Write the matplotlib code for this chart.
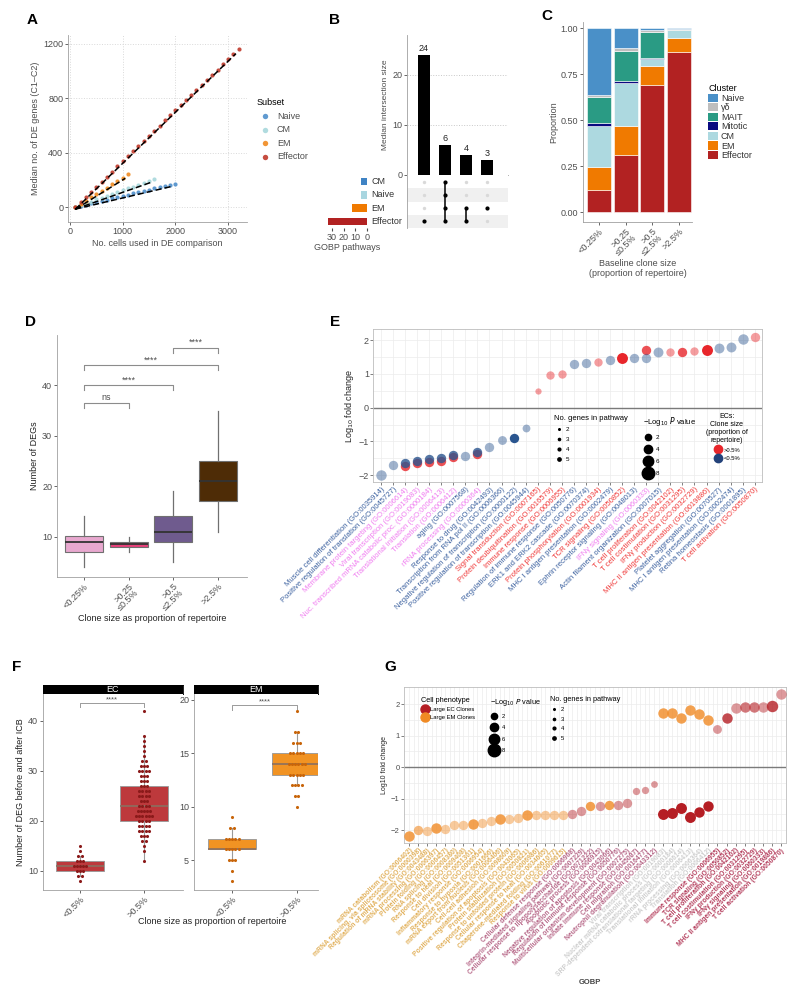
import matplotlib.pyplot as plt
import numpy as np
from matplotlib.lines import Line2D
from matplotlib.patches import Patch

plt.rcParams['font.family'] = ['Liberation Sans', 'DejaVu Sans']
plt.rcParams['axes.linewidth'] = 0.6

W, H = 800, 1001
GREY = '#4d4d4d'

# ---------------- A: DE genes vs cells ----------------
a_naive_x = [100, 200, 300, 400, 500, 600, 700, 800, 900, 1000, 1100, 1200, 1300, 1400, 1500, 1600, 1700, 1800, 1900, 2000]
a_naive_y = [2, 9, 17, 27, 35, 44, 55, 63, 72, 83, 91, 100, 110, 118, 128, 137, 146, 155, 165, 172]
a_cm_x = [100, 200, 300, 400, 500, 600, 700, 800, 900, 1000, 1100, 1200, 1300, 1400, 1500, 1600]
a_cm_y = [1, 13, 28, 40, 56, 67, 83, 95, 110, 122, 138, 149, 165, 177, 193, 205]
a_em_x = [100, 200, 300, 400, 500, 600, 700, 800, 900, 1000, 1100]
a_em_y = [0, 23, 45, 71, 94, 119, 141, 167, 189, 215, 240]
a_eff_x = [100, 200, 300, 400, 500, 600, 700, 800, 900, 1000, 1100, 1200, 1300, 1400, 1500, 1600,
           1700, 1800, 1900, 2000, 2100, 2200, 2300, 2400, 2500, 2600, 2700, 2800, 2900, 3000, 3100, 3200]
a_eff_y = [0, 36, 74, 111, 149, 186, 224, 261, 299, 337, 374, 412, 450, 487, 525, 562,
           600, 637, 675, 712, 750, 787, 825, 862, 900, 937, 975, 1012, 1050, 1087, 1125, 1165]
a_subsets = ['Naive', 'CM', 'EM', 'Effector']
a_colors = ['#4f8fcb', '#a8d8dc', '#f08a20', '#c0392b']

# ---------------- B: upset ----------------
b_inter = [24, 6, 4, 3]
b_sets = ['CM', 'Naive', 'EM', 'Effector']
b_members = [[0, 0, 0, 1], [1, 1, 1, 1], [0, 0, 1, 1], [0, 0, 1, 0]]
b_set_sizes = [5, 5, 13, 33]
b_set_colors = ['#3f83c4', '#a9d6e0', '#f07a00', '#b22222']

# ---------------- C: stacked proportions ----------------
c_groups = ['<0.25%', '>0.25\n≤0.5%', '>0.5\n≤2.5%', '>2.5%']
c_clusters = ['Naive', 'γδ', 'MAIT', 'Mitotic', 'CM', 'EM', 'Effector']
c_colors = ['#4a90c8', '#bebebe', '#2a9b84', '#0a0a80', '#add9e0', '#f07a00', '#b22222']
c_naive = [0.363, 0.11, 0.01, 0.007]
c_gd = [0.01, 0.015, 0.01, 0.003]
c_mait = [0.145, 0.16, 0.14, 0.0]
c_mitotic = [0.012, 0.015, 0.01, 0.0]
c_cm = [0.225, 0.23, 0.035, 0.045]
c_em = [0.125, 0.16, 0.105, 0.075]
c_effector = [0.12, 0.31, 0.69, 0.87]

# ---------------- D: boxplots ----------------
d_groups = ['<0.25%', '>0.25\n≤0.5%', '>0.5\n≤2.5%', '>2.5%']
d_q1 = [7, 8, 9, 17]
d_med = [9, 8.5, 11, 21]
d_q3 = [10.2, 9, 14, 25]
d_lo = [4, 7, 5, 11]
d_hi = [14, 10, 19, 35]
d_colors = ['#e8a8cf', '#e8407a', '#6f5b8e', '#4e2c06']
d_pairs = [(1, 2, 'ns', 36.5), (1, 3, '****', 40), (1, 4, '****', 44), (3, 4, '****', 47.5)]

# ---------------- E: GO bubble ----------------
e_terms = ['Muscle cell differentiation (GO:0035914)', 'Positive regulation of translation (GO:0045727)',
           'Membrane protein targeting (GO:0006614)', 'Viral transcription (GO:0019083)',
           'Nuc. transcribed mRNA catabolic proc. (GO:0000184)', 'Translational initiation (GO:0006413)',
           'Translation (GO:0006412)', 'aging (GO:0007568)', 'rRNA processing (GO:0006364)',
           'Response to drug (GO:0042493)', 'Transcription from RNA pol II (GO:0006366)',
           'Negative regulation of transcription (GO:0000122)', 'Positive regulation of transcription (GO:0045944)',
           'Signal transduction (GO:0007165)', 'Protein deubiquitination (GO:0016579)',
           'Immune response (GO:0006955)', 'Regulation of immune response (GO:0050776)',
           'ERK1 and ERK2 cascade (GO:0070374)', 'Protein phosphorylation (GO:0001934)',
           'MHC I antigen presentation (GO:0002479)', 'TCR signaling (GO:0050852)',
           'Ephrin receptor signaling (GO:0048013)', 'IFNγ signaling (GO:0060333)',
           'Actin filament organization (GO:0007015)', 'T cell proliferation (GO:0042102)',
           'T cell costimulation (GO:0031295)', 'IFNγ production (GO:0032729)',
           'MHC II antigen presentation (GO:0019886)', 'Platelet aggregation (GO:0070527)',
           'MHC I antigen presentation (GO:0002474)', 'Retina homeostasis (GO:0001895)',
           'T cell activation (GO:0050870)']
e_group = [0, 0, 1, 1, 1, 1, 1, 0, 1, 0, 0, 0, 0, 2, 2, 2, 0, 0, 2, 0, 2, 0, 1, 0, 2, 2, 2, 2, 0, 0, 0, 2]
e_red_fc = [None, None, -1.72, -1.65, -1.62, -1.58, -1.47, None, -1.37, None, None, None, None, 0.49, 0.97, 0.99,
            None, None, 1.34, None, 1.47, None, 1.70, None, 1.65, 1.66, 1.69, 1.71, None, None, None, 2.10]
e_red_p = [None, None, 5, 5, 5, 5, 5, None, 5, None, None, None, None, 2, 4, 4,
           None, None, 4, None, 6.5, None, 5, None, 4, 5, 4, 6.5, None, None, None, 5]
e_red_n = [None, None, 4, 4, 4, 4, 4, None, 4, None, None, None, None, 2, 2, 2,
           None, None, 2, None, 5, None, 4, None, 2, 4, 2, 5, None, None, None, 2]
e_blue_fc = [-1.99, -1.69, -1.63, -1.57, -1.53, -1.50, -1.40, -1.42, -1.30, -1.15, -0.95, -0.90, -0.60, None, None, None,
             1.28, 1.32, None, 1.40, None, 1.48, 1.47, 1.65, None, None, None, None, 1.77, 1.80, 2.03, None]
e_blue_p = [6, 5, 5, 5, 5, 5, 5, 5, 5, 5, 4.5, 5, 3.5, None, None, None,
            5, 5, None, 5, None, 5, 5, 5.5, None, None, None, None, 5.5, 5.5, 6, None]
e_blue_n = [2, 2, 4, 4, 4, 4, 4, 2, 4, 2, 2, 5, 2, None, None, None,
            2, 2, None, 2, None, 2, 2, 2, None, None, None, None, 2, 2, 2, None]
e_label_cols = ['#3d62a0', '#f07df0', '#f03a3a']

# ---------------- F: facetted boxplots ----------------
f_groups = ['<0.5%', '>0.5%']
f_ec_q1 = [10, 20]
f_ec_med = [11, 23]
f_ec_q3 = [12, 27]
f_ec_lo = [9, 12]
f_ec_hi = [13, 37]
f_ec_small_vals = [8, 9, 10, 11, 12, 13, 14, 15]
f_ec_small_counts = [1, 2, 3, 5, 3, 2, 1, 1]
f_ec_large_vals = [12, 14, 15, 16, 17, 18, 19, 20, 21, 22, 23, 24, 25, 26, 27, 28, 29, 30, 31, 32, 33, 34, 35, 36, 37, 42]
f_ec_large_counts = [1, 1, 1, 2, 3, 4, 4, 4, 6, 5, 4, 3, 4, 4, 3, 3, 3, 4, 3, 2, 1, 1, 1, 1, 1, 1]
f_em_q1 = [6, 13]
f_em_med = [6, 14]
f_em_q3 = [7, 15]
f_em_lo = [5, 12]
f_em_hi = [8, 17]
f_em_small_vals = [3, 4, 5, 6, 7, 8, 9]
f_em_small_counts = [1, 1, 3, 5, 5, 2, 1]
f_em_large_vals = [10, 11, 12, 13, 14, 15, 16, 17, 19]
f_em_large_counts = [1, 2, 4, 5, 6, 5, 3, 2, 1]

# ---------------- G: GO bubble EC vs EM ----------------
g_terms = ['mRNA catabolism (GO:0006402)', 'mRNA splicing, via spliceosome (GO:0000398)',
           'Regulation of mRNA stability (GO:0043488)', 'mRNA processing (GO:0006397)',
           'Protein folding (GO:0006457)', 'RNA splicing (GO:0008380)', 'Response to heat (GO:0009408)',
           'Cell division (GO:0051301)', 'Inflammatory response (GO:0006954)',
           'Response to hypoxia (GO:0001666)', 'mRNA export from nucleus (GO:0006406)',
           'Cell-cell adhesion (GO:0098609)', 'Positive regulation of apoptosis (GO:0043065)',
           'Protein stabilization (GO:0050821)', 'Response to unfolded protein (GO:0006986)',
           'Cellular response to heat (GO:0034605)', 'Chaperone-mediated folding (GO:0061077)',
           'Response to virus (GO:0009615)', 'Cellular defense response (GO:0006968)',
           'Integrin-mediated signaling pathway (GO:0007229)',
           'Cellular response to lipopolysaccharide (GO:0071222)', 'Apoptotic process (GO:0006915)',
           'Negative regulation of apoptosis (GO:0043066)', 'Regulation of immune response (GO:0050776)',
           'Multicellular organism development (GO:0007275)', 'Innate immune response (GO:0045087)',
           'Cell migration (GO:0016477)', 'Neutrophil degranulation (GO:0043312)',
           'Viral transcription (GO:0019083)', 'Nuclear mRNA catabolic process (GO:0000184)',
           'SRP-dependent cotranslational targeting (GO:0006614)', 'Translational initiation (GO:0006413)',
           'rRNA processing (GO:0006364)', 'Translation (GO:0006412)', 'Immune response (GO:0006955)',
           'TCR signaling (GO:0050852)', 'T cell proliferation (GO:0042102)',
           'T cell costimulation (GO:0031295)', 'IFNγ production (GO:0032729)',
           'IFNγ signaling (GO:0060333)', 'MHC II antigen presentation (GO:0019886)',
           'T cell activation (GO:0050870)']
g_group = [0, 0, 0, 0, 0, 0, 0, 0, 0, 0, 0, 0, 0, 0, 0, 0, 0, 0,
           1, 1, 1, 1, 1, 1, 1, 1, 1, 1, 2, 2, 2, 2, 2, 2, 3, 3, 3, 3, 3, 3, 3, 3]
g_ec_fc = [None, None, None, None, None, None, None, None, None, None, None, None, None, None, None, None, None, None,
           -1.50, -1.39, None, -1.24, None, -1.20, -1.15, -0.75, -0.73, -0.54,
           -1.50, -1.47, -1.31, -1.58, -1.44, -1.23, 1.22, 1.57, 1.87, 1.90, 1.92, 1.92, 1.95, 2.33]
g_ec_p = [None, None, None, None, None, None, None, None, None, None, None, None, None, None, None, None, None, None,
          5, 5, None, 5, None, 5, 5, 3, 3, 2.5, 6.5, 6.5, 6.5, 6.5, 6, 6, 4.5, 6, 6, 6, 6, 6, 7, 6]
g_ec_n = [None, None, None, None, None, None, None, None, None, None, None, None, None, None, None, None, None, None,
          2, 2, None, 2, None, 2, 2, 2, 2, 2, 5, 5, 5, 5, 5, 5, 2, 4, 2, 3, 3, 2, 4, 2]
g_em_fc = [-2.19, -2.00, -2.03, -1.93, -1.95, -1.84, -1.84, -1.81, -1.77, -1.70, -1.65, -1.65, -1.63, -1.52, -1.52,
           -1.52, -1.52, -1.52, None, None, -1.24, None, -1.22, None, None, None, None, None,
           1.73, 1.71, 1.55, 1.82, 1.69, 1.48, None, None, None, None, None, None, None, None]
g_em_p = [6, 5, 5, 6, 5, 5, 5, 6, 5, 5, 6, 5, 5, 6, 5, 5, 5, 5, None, None, 5, None, 5, None, None, None, None, None,
          6, 6, 6, 6, 6, 6, None, None, None, None, None, None, None, None]
g_em_n = [4, 3, 2, 4, 2, 2, 2, 4, 2, 2, 4, 2, 2, 4, 2, 2, 2, 2, None, None, 4, None, 4, None, None, None, None, None,
          4, 4, 4, 4, 4, 4, None, None, None, None, None, None, None, None]
g_label_cols = ['#e2b25e', '#b86a8a', '#cfcfcf', '#b5405e']

ALPHA = {2: 0.45, 3: 0.6, 4: 0.8, 5: 1.0}


def rect(l, t, r, b):
    return [l / W, 1 - b / H, (r - l) / W, (b - t) / H]


def fx(x):
    return x / W


def fy(y):
    return 1 - y / H


def dot_d(p):
    return 3 + 0.75 * p


def clean(ax):
    for s in ['top', 'right']:
        ax.spines[s].set_visible(False)
    for s in ['left', 'bottom']:
        ax.spines[s].set_color('#a0a0a0')
    ax.tick_params(colors=GREY, labelsize=6.5, length=2, width=0.6, pad=1.5)


def panel_a(fig):
    ax = fig.add_axes(rect(68, 35, 247, 222))
    data = [(a_naive_x, a_naive_y), (a_cm_x, a_cm_y), (a_em_x, a_em_y), (a_eff_x, a_eff_y)]
    for (xs, ys), name, col in zip(data, a_subsets, a_colors):
        ax.scatter(xs, ys, s=9, color=col, alpha=0.9, lw=0, zorder=3, label=name)
    for xs, ys in data:
        k, c = np.polyfit(xs, ys, 1)
        xx = np.array([xs[0], xs[-1] - 50])
        ax.plot(xx, k * xx + c - 15, color='black', ls=(0, (4, 2)), lw=1.1, zorder=4)
    ax.set_xlim(-38, 3360)
    ax.set_ylim(-110, 1266)
    ax.set_xticks([0, 1000, 2000, 3000])
    ax.set_yticks([0, 400, 800, 1200])
    ax.grid(True, ls=':', color='#d9d9d9', lw=0.7)
    ax.set_axisbelow(True)
    clean(ax)
    ax.set_xlabel('No. cells used in DE comparison', fontsize=6.5, color=GREY, labelpad=2)
    ax.set_ylabel('Median no. of DE genes (C1–C2)', fontsize=6.5, color=GREY, labelpad=2)
    ax.legend(title='Subset', loc='upper left', bbox_to_anchor=(fx(248), fy(90)),
              bbox_transform=fig.transFigure, frameon=False, fontsize=6.5, title_fontsize=6.5,
              handletextpad=0.3, labelspacing=0.5, markerscale=1.3, alignment='left',
              labelcolor=GREY)


def panel_b(fig):
    ax = fig.add_axes(rect(407, 35, 508, 175))
    pos = np.arange(len(b_inter))
    ax.bar(pos, b_inter, width=0.56, color='black', zorder=3)
    for p, v in zip(pos, b_inter):
        ax.text(p, v + 0.4, str(v), ha='center', va='bottom', fontsize=6.5, color='#222222')
    ax.set_xlim(-0.81, 4.0)
    ax.set_ylim(0, 28)
    ax.set_yticks([0, 10, 20])
    ax.set_xticks([])
    ax.yaxis.grid(True, ls=':', color='#c8c8c8', lw=0.7)
    ax.set_axisbelow(True)
    clean(ax)
    ax.set_ylabel('Median intersection size', fontsize=6, color=GREY, labelpad=2)

    axm = fig.add_axes(rect(407, 175, 508, 228))
    axm.set_xlim(-0.81, 4.0)
    axm.set_ylim(3.5, -0.5)
    for r in [1, 3]:
        axm.axhspan(r - 0.5, r + 0.5, color='#f0f0f0', lw=0)
    for c in range(len(b_inter)):
        on = [r for r in range(len(b_sets)) if b_members[c][r]]
        axm.scatter([c] * len(b_sets), range(len(b_sets)), s=6, color='#d9d9d9', lw=0, zorder=2)
        if len(on) > 1:
            axm.plot([c, c], [min(on), max(on)], color='black', lw=1.1, zorder=3)
        axm.scatter([c] * len(on), on, s=9, color='black', lw=0, zorder=4)
    axm.set_xticks([])
    axm.set_yticks([])
    for s in ['top', 'right', 'bottom']:
        axm.spines[s].set_visible(False)
    axm.spines['left'].set_color('#a0a0a0')

    axs = fig.add_axes(rect(328, 175, 367, 228))
    axs.barh(range(len(b_sets)), b_set_sizes, height=0.55, color=b_set_colors)
    axs.set_xlim(33.4, 0)
    axs.set_ylim(3.5, -0.5)
    axs.set_yticks([])
    axs.set_xticks([30, 20, 10, 0])
    for s in ['top', 'right', 'left', 'bottom']:
        axs.spines[s].set_visible(False)
    axs.tick_params(colors=GREY, labelsize=6.5, length=2, pad=1.5)
    axs.set_xlabel('GOBP pathways', fontsize=6.5, color=GREY, labelpad=1)
    for k, name in enumerate(b_sets):
        fig.text(fx(371), fy(175 + (k + 0.5) * 53 / 4), name, va='center', fontsize=6.5, color='#333333')


def panel_c(fig):
    ax = fig.add_axes(rect(583, 22, 692, 222))
    x = np.arange(len(c_groups))
    stack = [c_effector, c_em, c_cm, c_mitotic, c_mait, c_gd, c_naive]
    cols = c_colors[::-1]
    bottom = np.zeros(len(c_groups))
    for vals, col in zip(stack, cols):
        ax.bar(x, vals, bottom=bottom, width=0.89, color=col, edgecolor='white', lw=0.4)
        bottom += np.array(vals)
    ax.set_xlim(-0.59, 3.48)
    ax.set_ylim(-0.054, 1.033)
    ax.set_yticks([0, 0.25, 0.5, 0.75, 1.0])
    ax.set_yticklabels(['0.00', '0.25', '0.50', '0.75', '1.00'])
    ax.set_xticks(x)
    ax.set_xticklabels(c_groups, rotation=45, ha='right', rotation_mode='anchor', fontsize=6, linespacing=0.9)
    clean(ax)
    ax.set_ylabel('Proportion', fontsize=6.5, color=GREY, labelpad=2)
    ax.set_xlabel('Baseline clone size\n(proportion of repertoire)', fontsize=6.5, color=GREY, labelpad=1)
    handles = [Patch(facecolor=c, edgecolor='none') for c in c_colors]
    ax.legend(handles, c_clusters, title='Cluster', loc='upper left', bbox_to_anchor=(fx(700), fy(76)),
              bbox_transform=fig.transFigure, frameon=False, fontsize=6.5, title_fontsize=6.5,
              handlelength=1.1, handleheight=1.0, handletextpad=0.3, labelspacing=0.05,
              alignment='left', labelcolor='#333333')


def panel_d(fig):
    ax = fig.add_axes(rect(57, 335, 247, 577))
    stats = [dict(q1=a, med=m, q3=b, whislo=lo, whishi=hi, fliers=[])
             for a, m, b, lo, hi in zip(d_q1, d_med, d_q3, d_lo, d_hi)]
    bp = ax.bxp(stats, positions=[1, 2, 3, 4], widths=0.85, patch_artist=True, showcaps=False,
                boxprops=dict(edgecolor='#707070', lw=0.8),
                medianprops=dict(color='#333333', lw=1.3),
                whiskerprops=dict(color='#707070', lw=0.9))
    for patch, c in zip(bp['boxes'], d_colors):
        patch.set_facecolor(c)
    for i, j, lab, y in d_pairs:
        ax.plot([i, i, j, j], [y - 1, y, y, y - 1], color='#8c8c8c', lw=0.8)
        ax.text((i + j) / 2, y + 0.2, lab, ha='center', va='bottom', fontsize=6.5, color=GREY)
    ax.set_xlim(0.4, 4.65)
    ax.set_ylim(2, 50)
    ax.set_yticks([10, 20, 30, 40])
    ax.set_xticks([1, 2, 3, 4])
    ax.set_xticklabels(d_groups, rotation=45, ha='right', rotation_mode='anchor', fontsize=6, linespacing=0.9)
    clean(ax)
    ax.set_ylabel('Number of DEGs', fontsize=6.5, color='#222222', labelpad=2)
    ax.set_xlabel('Clone size as proportion of repertoire', fontsize=6.5, color='#222222', labelpad=1)


def bubble_axes(ax):
    for s in ax.spines.values():
        s.set_color('#bdbdbd')
    ax.grid(True, which='both', color='#ececec', lw=0.5)
    ax.set_axisbelow(True)
    ax.axhline(0, color='#7a7a7a', lw=1.0, zorder=1)
    ax.tick_params(length=2, width=0.5, pad=1, color=GREY)
    ax.tick_params(axis='y', labelcolor=GREY)


def panel_e(fig):
    ax = fig.add_axes(rect(373, 329, 762, 482))
    x = np.arange(1, len(e_terms) + 1)
    for fc, pv, nn, col in [(e_red_fc, e_red_p, e_red_n, '#e8262b'),
                            (e_blue_fc, e_blue_p, e_blue_n, '#2a558f')]:
        for xi, f, p, n in zip(x, fc, pv, nn):
            if f is None:
                continue
            ax.scatter(xi, f, s=dot_d(p) ** 2, color=col, alpha=ALPHA[n], lw=0, zorder=3)
    ax.set_xlim(0.34, 32.6)
    ax.set_ylim(-2.2, 2.33)
    ax.set_yticks([-2, -1, 0, 1, 2])
    ax.set_yticks([-1.5, -0.5, 0.5, 1.5], minor=True)
    bubble_axes(ax)
    ax.tick_params(axis='y', which='minor', length=0)
    ax.tick_params(axis='y', labelsize=6.5)
    ax.set_xticks(x)
    ax.set_xticklabels(e_terms, rotation=45, ha='right', rotation_mode='anchor', fontsize=5.5)
    for lab, g in zip(ax.get_xticklabels(), e_group):
        lab.set_color(e_label_cols[g])
    ax.set_ylabel('Log$_{10}$ fold change', fontsize=6.5, color='#222222', labelpad=2)

    h1 = [Line2D([], [], ls='', marker='o', color='black', markersize=m) for m in [1.2, 1.6, 2.0, 2.4]]
    l1 = ax.legend(h1, ['2', '3', '4', '5'], title='No. genes in pathway', loc='upper left',
                   bbox_to_anchor=(fx(551), fy(412)), bbox_transform=fig.transFigure, frameon=False,
                   fontsize=4.5, title_fontsize=5.5, labelspacing=0.75, handletextpad=0.4,
                   handlelength=1.5, borderpad=0, alignment='left')
    ax.add_artist(l1)
    h2 = [Line2D([], [], ls='', marker='o', color='black', markersize=dot_d(p)) for p in [2, 4, 6, 8]]
    l2 = ax.legend(h2, ['2', '4', '6', '8'], title='−Log$_{10}$ $P$ value', loc='upper left',
                   bbox_to_anchor=(fx(640), fy(412)), bbox_transform=fig.transFigure, frameon=False,
                   fontsize=4.5, title_fontsize=5.5, labelspacing=1.05, handletextpad=0.5,
                   handlelength=1.5, borderpad=0, alignment='left')
    ax.add_artist(l2)
    h3 = [Line2D([], [], ls='', marker='o', color=c, markersize=6) for c in ['#e8262b', '#23427a']]
    l3 = ax.legend(h3, ['>0.5%', '<0.5%'], title='ECs:\nClone size\n(proportion of\nrepertoire)',
                   loc='upper left', bbox_to_anchor=(fx(703), fy(410)), bbox_transform=fig.transFigure,
                   frameon=False, fontsize=4.2, title_fontsize=5, labelspacing=0.6, handletextpad=0.3,
                   handlelength=1.5, borderpad=0, alignment='center')
    l3.get_title().set_multialignment('center')


def dot_strip(ax, pos, vals, counts, color):
    for v, n in zip(vals, counts):
        offs = (np.arange(n) - (n - 1) / 2) * 0.05
        ax.scatter(pos + offs, np.full(n, v), s=5, color=color, lw=0, zorder=4)


def facet(fig, l, r, title, q1, med, q3, lo, hi, small, large, ylim, yticks, xlim, fill, dotcol, sig_y, tick):
    st = fig.add_axes(rect(l, 685, r, 694))
    st.set_facecolor('black')
    st.set_xticks([])
    st.set_yticks([])
    st.text(0.5, 0.5, title, color='white', ha='center', va='center', fontsize=6.5, transform=st.transAxes)
    ax = fig.add_axes(rect(l, 694, r, 890))
    stats = [dict(q1=a, med=m, q3=b, whislo=w0, whishi=w1, fliers=[])
             for a, m, b, w0, w1 in zip(q1, med, q3, lo, hi)]
    bp = ax.bxp(stats, positions=[1, 2], widths=0.75, patch_artist=True, showcaps=False,
                boxprops=dict(edgecolor='#9a9a9a', lw=0.7),
                medianprops=dict(color='#8a7060', lw=1.2),
                whiskerprops=dict(color='#9a9a9a', lw=0.8))
    for patch in bp['boxes']:
        patch.set_facecolor(fill)
        patch.set_alpha(0.92)
    dot_strip(ax, 1, small[0], small[1], dotcol)
    dot_strip(ax, 2, large[0], large[1], dotcol)
    ax.plot([1, 1, 2, 2], [sig_y - tick, sig_y, sig_y, sig_y - tick], color='#9a9a9a', lw=0.7)
    ax.text(1.5, sig_y, '****', ha='center', va='bottom', fontsize=5.5, color=GREY)
    ax.set_xlim(*xlim)
    ax.set_ylim(*ylim)
    ax.set_yticks(yticks)
    ax.set_xticks([1, 2])
    ax.set_xticklabels(f_groups, rotation=45, ha='right', rotation_mode='anchor', fontsize=6)
    clean(ax)
    return ax


def panel_f(fig):
    ax1 = facet(fig, 43, 183, 'EC', f_ec_q1, f_ec_med, f_ec_q3, f_ec_lo, f_ec_hi,
                (f_ec_small_vals, f_ec_small_counts), (f_ec_large_vals, f_ec_large_counts),
                (6.2, 45.4), [10, 20, 30, 40], (0.42, 2.61), '#b8282b', '#8b1a1a', 43.5, 0.8)
    ax1.set_ylabel('Number of DEG before and after ICB', fontsize=6.5, color='#222222', labelpad=2)
    facet(fig, 194, 318, 'EM', f_em_q1, f_em_med, f_em_q3, f_em_lo, f_em_hi,
          (f_em_small_vals, f_em_small_counts), (f_em_large_vals, f_em_large_counts),
          (2.2, 20.56), [5, 10, 15, 20], (0.41, 2.33), '#f08a10', '#c8650a', 19.5, 0.4)
    fig.text(fx(212), fy(922), 'Clone size as proportion of repertoire', ha='center', va='center',
             fontsize=6.5, color='#222222')


def panel_g(fig):
    ax = fig.add_axes(rect(404, 687, 786, 843))
    x = np.arange(1, len(g_terms) + 1)
    for fc, pv, nn, col in [(g_em_fc, g_em_p, g_em_n, '#f08a24'),
                            (g_ec_fc, g_ec_p, g_ec_n, '#b51e24')]:
        for xi, f, p, n in zip(x, fc, pv, nn):
            if f is None:
                continue
            ax.scatter(xi, f, s=dot_d(p) ** 2, color=col, alpha=ALPHA[n], lw=0, zorder=3)
    ax.set_xlim(0.45, 42.55)
    ax.set_ylim(-2.41, 2.54)
    ax.set_yticks([-2, -1, 0, 1, 2])
    ax.set_yticks([-1.5, -0.5, 0.5, 1.5], minor=True)
    ax.set_xticks(np.arange(1.5, 42, 1), minor=True)
    bubble_axes(ax)
    ax.tick_params(axis='both', which='minor', length=0)
    ax.tick_params(axis='y', labelsize=5.5)
    ax.set_xticks(x)
    ax.set_xticklabels(g_terms, rotation=45, ha='right', rotation_mode='anchor', fontsize=4.9,
                       fontweight='bold')
    for lab, g in zip(ax.get_xticklabels(), g_group):
        lab.set_color(g_label_cols[g])
    ax.set_ylabel('Log10 fold change', fontsize=5, color='#222222', labelpad=2)

    h1 = [Line2D([], [], ls='', marker='o', color=c, markersize=6.5) for c in ['#b51e24', '#f08a24']]
    l1 = ax.legend(h1, ['Large EC Clones', 'Large EM Clones'], title='Cell phenotype', loc='upper left',
                   bbox_to_anchor=(fx(418), fy(694)), bbox_transform=fig.transFigure, frameon=False,
                   fontsize=4.2, title_fontsize=5.3, labelspacing=0.5, handletextpad=0.3,
                   handlelength=1.3, borderpad=0, alignment='left')
    ax.add_artist(l1)
    h2 = [Line2D([], [], ls='', marker='o', color='black', markersize=dot_d(p)) for p in [2, 4, 6, 8]]
    l2 = ax.legend(h2, ['2', '4', '6', '8'], title='−Log$_{10}$ $P$ value', loc='upper left',
                   bbox_to_anchor=(fx(487), fy(694)), bbox_transform=fig.transFigure, frameon=False,
                   fontsize=4.2, title_fontsize=5.3, labelspacing=1.05, handletextpad=0.5,
                   handlelength=1.5, borderpad=0, alignment='left')
    ax.add_artist(l2)
    h3 = [Line2D([], [], ls='', marker='o', color='black', markersize=m) for m in [1.2, 1.6, 2.0, 2.4]]
    ax.legend(h3, ['2', '3', '4', '5'], title='No. genes in pathway', loc='upper left',
              bbox_to_anchor=(fx(547), fy(693)), bbox_transform=fig.transFigure, frameon=False,
              fontsize=4.2, title_fontsize=5.3, labelspacing=0.75, handletextpad=0.4,
              handlelength=1.5, borderpad=0, alignment='left')
    fig.text(fx(590), fy(983), 'GOBP', ha='center', va='center', fontsize=5.5, fontweight='bold',
             color='#444444')


if __name__ == '__main__':
    fig = plt.figure(figsize=(W / 100, H / 100), dpi=100)
    panel_a(fig)
    panel_b(fig)
    panel_c(fig)
    panel_d(fig)
    panel_e(fig)
    panel_f(fig)
    panel_g(fig)
    for letter, (px, py) in zip('ABCDEFG', [(32, 20), (335, 20), (547, 16), (30, 322),
                                            (335, 322), (17, 667), (390, 667)]):
        fig.text(fx(px), fy(py), letter, ha='center', va='center', fontsize=11, fontweight='bold')
    fig.savefig('out.png', dpi=100)
